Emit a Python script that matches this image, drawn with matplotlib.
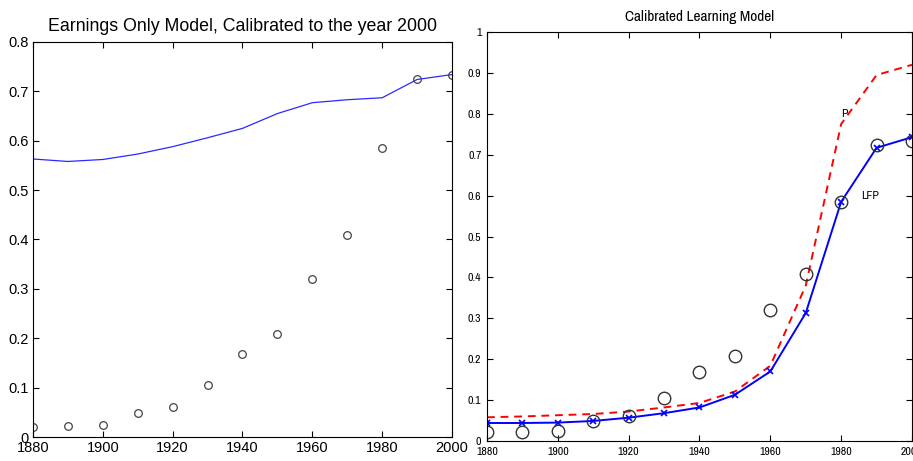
import matplotlib
matplotlib.use("Agg")
import matplotlib.pyplot as plt
from matplotlib import font_manager

# Decades and observed female labour force participation
years = [1880, 1890, 1900, 1910, 1920, 1930, 1940, 1950, 1960, 1970, 1980, 1990, 2000]
lfp_data = [0.021, 0.023, 0.024, 0.049, 0.061, 0.105, 0.168, 0.209, 0.321, 0.409, 0.585, 0.725, 0.734]

# Earnings only model
earnings_model = [0.563, 0.558, 0.562, 0.573, 0.588, 0.606, 0.625, 0.655, 0.677, 0.683, 0.687, 0.724, 0.734]

# Calibrated learning model: LFP and beliefs P
learning_lfp = [0.044, 0.044, 0.045, 0.049, 0.057, 0.068, 0.082, 0.113, 0.170, 0.313, 0.585, 0.717, 0.743]
learning_p = [0.058, 0.060, 0.063, 0.066, 0.072, 0.082, 0.093, 0.121, 0.184, 0.38, 0.775, 0.895, 0.92]

xticks = [1880, 1900, 1920, 1940, 1960, 1980, 2000]

plt.rcParams['font.family'] = ['Liberation Sans', 'DejaVu Sans']

# pick a narrow sans for the right panel
names = {f.name for f in font_manager.fontManager.ttflist}
narrow = 'Liberation Sans'
for cand in ['Liberation Sans Narrow', 'Arial Narrow', 'Archivo Narrow', 'PT Sans Narrow',
             'Roboto Condensed', 'Sofia Sans Semi Condensed', 'Encode Sans Semi Condensed']:
    if cand in names:
        narrow = cand
        break

fig = plt.figure(figsize=(9.13, 4.61), dpi=100)

# Left panel
ax1 = fig.add_axes([0.0361, 0.052, 0.459, 0.857])
ax1.plot(years, earnings_model, color='#2a2aff', linewidth=0.9)
ax1.plot(years, lfp_data, linestyle='none', marker='o', markersize=5.5,
         markerfacecolor='none', markeredgecolor='#444444', markeredgewidth=0.9)
ax1.set_xlim(1880, 2000)
ax1.set_ylim(0, 0.8)
ax1.set_xticks(xticks)
ax1.set_yticks([0, 0.1, 0.2, 0.3, 0.4, 0.5, 0.6, 0.7, 0.8])
ax1.set_yticklabels(['0', '0.1', '0.2', '0.3', '0.4', '0.5', '0.6', '0.7', '0.8'])
ax1.tick_params(direction='in', top=True, right=True, labelsize=10.5, length=4, pad=3)
ax1.set_title('Earnings Only Model, Calibrated to the year 2000', fontsize=12.8, pad=8)

# Right panel
ax2 = fig.add_axes([0.5334, 0.0434, 0.4655, 0.887])
ax2.plot(years, learning_p, color='red', linestyle='--', linewidth=1.4, dashes=(4, 3))
ax2.plot(years, learning_lfp, color='blue', linewidth=1.4, marker='x', markersize=4.5,
         markeredgewidth=1.2)
ax2.plot(years, lfp_data, linestyle='none', marker='o', markersize=9,
         markerfacecolor='none', markeredgecolor='#333333', markeredgewidth=1.0)
ax2.text(1980, 0.80, 'P', fontsize=8.5, family=narrow, ha='left', va='center')
ax2.text(1985.5, 0.60, 'LFP', fontsize=8.5, family=narrow, ha='left', va='center')
ax2.set_xlim(1880, 2000)
ax2.set_ylim(0, 1)
ax2.set_xticks(xticks)
ax2.set_yticks([0, 0.1, 0.2, 0.3, 0.4, 0.5, 0.6, 0.7, 0.8, 0.9, 1])
ax2.set_yticklabels(['0', '0.1', '0.2', '0.3', '0.4', '0.5', '0.6', '0.7', '0.8', '0.9', '1'])
ax2.tick_params(direction='in', top=True, right=True, labelsize=8.5, length=4, pad=4)
for lab in ax2.get_xticklabels() + ax2.get_yticklabels():
    lab.set_family(narrow)
ax2.set_title('Calibrated Learning Model', fontsize=11, family=narrow, pad=8)

for ax in (ax1, ax2):
    for s in ax.spines.values():
        s.set_linewidth(0.8)

fig.savefig('out.png', dpi=100)
